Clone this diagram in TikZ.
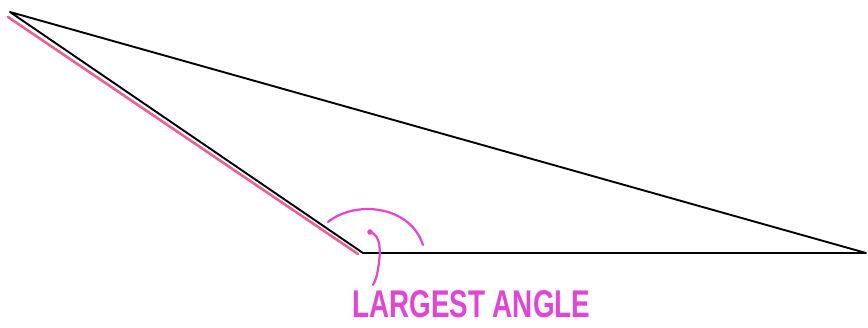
\documentclass[tikz,border=0pt]{standalone}
\usepackage{fontspec}
\setmainfont{Liberation Sans}
\definecolor{hlpink}{HTML}{F0608E}
\definecolor{penmag}{HTML}{E244D6}
\begin{document}
\begin{tikzpicture}[x=1pt,y=-1pt,
  edge/.style={black,line width=1.9pt,line cap=round,line join=round},
  pen/.style={penmag,line width=2.2pt,line cap=round},
  hl/.style={hlpink,line width=2.6pt,line cap=round}]
\useasboundingbox (0,0) rectangle (868,327);
\coordinate (A) at (10,12);
\coordinate (B) at (363,253);
\coordinate (C) at (866,253);
\coordinate (P1) at (8,17);
\coordinate (P2) at (358,254);
\draw[hl] (P1) -- (P2);
\draw[edge] (A) -- (B) -- (C) -- cycle;
\coordinate (R1) at (328,222);
\coordinate (R2) at (423,245);
\draw[pen] (R1) .. controls (355,200) and (410,205) .. (R2);
\coordinate (D) at (370,232);
\coordinate (E) at (373,285);
\fill[penmag] (D) circle (2.8);
\draw[pen] (D) .. controls (382,235) and (380,255) .. (379,262) .. controls (378,272) and (376,280) .. (E);
\node[penmag,anchor=north west,inner sep=0pt] (T) at (352,290) {\resizebox{238pt}{27pt}{\bfseries LARGEST ANGLE}};
\end{tikzpicture}
\end{document}
